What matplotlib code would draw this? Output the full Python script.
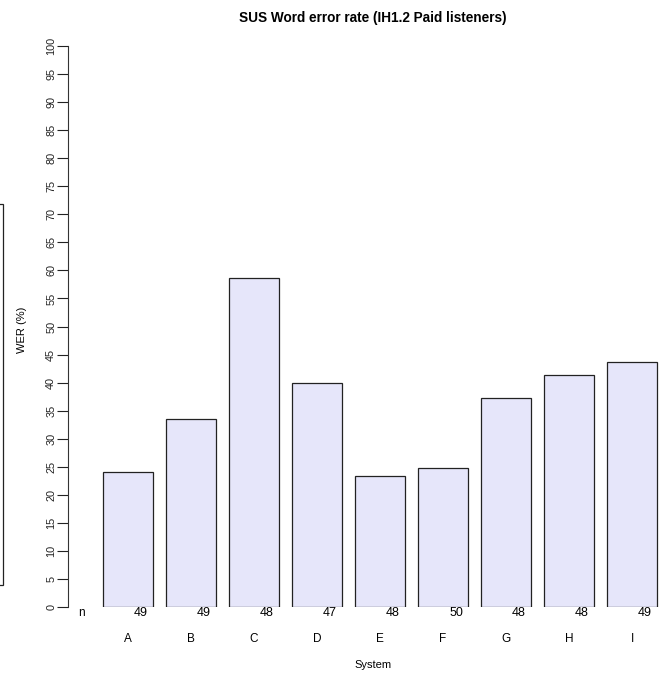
import matplotlib
matplotlib.use("Agg")
import matplotlib.pyplot as plt
from matplotlib.patches import Rectangle

# Data
systems = ["A", "B", "C", "D", "E", "F", "G", "H", "I"]
wer = [24.1, 33.6, 58.7, 40.0, 23.3, 24.7, 37.3, 41.3, 43.6]
n_listeners = [49, 49, 48, 47, 48, 50, 48, 48, 49]
yticks = list(range(0, 101, 5))

W, H = 667, 675
plt.rcParams["font.family"] = ["Liberation Sans", "DejaVu Sans"]
fig = plt.figure(figsize=(W / 100, H / 100), dpi=100)

# axes placed in pixel terms: y axis at x=68, 0 at y=607, 100 at y=46
ax_left, ax_right = 68, 667
ax_top, ax_bottom = 46, 607
ax = fig.add_axes([ax_left / W, 1 - ax_bottom / H,
                   (ax_right - ax_left) / W, (ax_bottom - ax_top) / H])

step = 63.0      # px between bar centres
first = 128.0    # px of first bar centre
width = 50 / step
xs = list(range(len(systems)))
ax.bar(xs, wer, width=width, color="#E6E6FA", edgecolor="#222222", linewidth=0.9)

ax.set_xlim((ax_left - first) / step, (ax_right - first) / step)
ax.set_ylim(0, 100)
for s in ["top", "right", "bottom"]:
    ax.spines[s].set_visible(False)
ax.spines["left"].set_color("#333333")
ax.set_xticks([])
ax.set_yticks(yticks)
ax.set_yticklabels([str(t) for t in yticks], rotation=90, va="center", fontsize=7.8)
ax.tick_params(axis="y", length=8, width=0.8, pad=0.5, colors="#222222")

trans = ax.get_xaxis_transform()
px = 1 / (ax_bottom - ax_top)  # one pixel in axes-y units
ax.text((81 - first) / step, -6 * px, "n", transform=trans, ha="center", va="center",
        fontsize=8.5, clip_on=False)
for x, n, name in zip(xs, n_listeners, systems):
    ax.text(x + width / 2 - 5 / step, -6.5 * px, str(n), transform=trans, ha="right",
            va="center", fontsize=9, clip_on=False)
    ax.text(x, -32 * px, name, transform=trans, ha="center",
            va="center", fontsize=8.5, clip_on=False)

fig.text(373 / W, 1 - 665 / H, "System", ha="center", va="center", fontsize=8)
fig.text(22 / W, 1 - 330 / H, "WER (%)", ha="center", va="center", rotation=90, fontsize=8)
fig.text(373 / W, 1 - 18 / H, "SUS Word error rate (IH1.2 Paid listeners)",
         ha="center", va="center", fontsize=9.8, fontweight="bold")

# cut-off box at the left edge
fig.patches.append(Rectangle((-10 / W, 1 - 585 / H), 13 / W, (585 - 204) / H,
                             transform=fig.transFigure, fill=False,
                             edgecolor="#222222", linewidth=0.9))

fig.savefig("out.png", dpi=100)
